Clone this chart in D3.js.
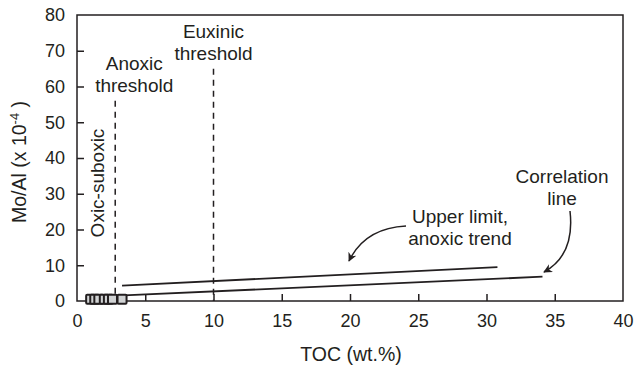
<!DOCTYPE html>
<html><head><meta charset="utf-8">
<script src="https://cdn.jsdelivr.net/npm/d3@7"></script>
<style>body{margin:0;background:#fff}text{font-family:"Liberation Sans",Arial,sans-serif;fill:#231f20}</style>
</head><body><svg id="c" width="635" height="373"></svg>
<script>
const xTicks = [0,5,10,15,20,25,30,35,40];
const yTicks = [0,10,20,30,40,50,60,70,80];
const sampleTOC = [1.0,1.3,1.6,2.0,2.3,2.6,3.3];
const sampleMoAl = [0.5,0.5,0.5,0.5,0.5,0.5,0.5];
const upperLimit = [[3.3,4.3],[30.8,9.5]];
const correlation = [[3.0,1.5],[34.1,6.8]];
const thresholds = [{toc:2.8,top:56,label:["Anoxic","threshold"],dx:19},{toc:10,top:65,label:["Euxinic","threshold"],dx:0}];

const svg = d3.select("#c");
const m = {l:77,r:623,t:15,b:301};
const x = d3.scaleLinear().domain([0,40]).range([m.l,m.r]);
const y = d3.scaleLinear().domain([0,80]).range([m.b,m.t]);
const ink = "#231f20";

svg.append("rect").attr("x",m.l).attr("y",m.t).attr("width",m.r-m.l).attr("height",m.b-m.t)
  .attr("fill","none").attr("stroke",ink).attr("stroke-width",1.5);

const gx = svg.append("g").attr("transform",`translate(0,${m.b})`)
  .call(d3.axisBottom(x).tickValues(xTicks).tickSize(-7).tickPadding(13));
const gy = svg.append("g").attr("transform",`translate(${m.l},0)`)
  .call(d3.axisLeft(y).tickValues(yTicks).tickSize(-7).tickPadding(12));
[gx,gy].forEach(g=>{
  g.attr("font-size",null).attr("font-family",null);
  g.select(".domain").remove();
  g.selectAll("line").attr("stroke",ink).attr("stroke-width",1.5);
  g.selectAll("text").style("font-size","18px").style("font-family","Liberation Sans, Arial, sans-serif").attr("fill",ink);
});
gx.selectAll(".tick").filter(d=>d===0||d===40).select("line").remove();
gy.selectAll(".tick").filter(d=>d===0||d===80).select("line").remove();

svg.append("text").attr("x",351).attr("y",361).attr("text-anchor","middle").style("font-size","19.5px").text("TOC (wt.%)");
const yl = svg.append("text").attr("transform",`translate(26,162) rotate(-90)`).attr("text-anchor","middle").style("font-size","19.5px");
yl.append("tspan").text("Mo/Al (x 10");
yl.append("tspan").attr("dy",-7).style("font-size","13px").text("-4");
yl.append("tspan").attr("dy",7).text(" )");

// threshold lines
thresholds.forEach(t=>{
  svg.append("line").attr("x1",x(t.toc)).attr("x2",x(t.toc)).attr("y1",y(t.top)).attr("y2",y(0))
    .attr("stroke",ink).attr("stroke-width",1.5).attr("stroke-dasharray","6,5");
  const tx = svg.append("text").attr("text-anchor","middle").style("font-size","19px");
  t.label.forEach((s,i)=>tx.append("tspan").attr("x",x(t.toc)+t.dx).attr("y",y(t.top)-31+i*22).text(s));
});
svg.append("text").attr("transform",`translate(104,183) rotate(-90)`).attr("text-anchor","middle").style("font-size","19px").text("Oxic-suboxic");

// trend lines
const line = d3.line().x(d=>x(d[0])).y(d=>y(d[1]));
[upperLimit,correlation].forEach(d=>svg.append("path").attr("d",line(d)).attr("fill","none").attr("stroke",ink).attr("stroke-width",1.8));

// samples
svg.selectAll("rect.s").data(sampleTOC).join("rect").attr("class","s")
  .attr("x",(d)=>x(d)-4.5).attr("y",(d,i)=>y(sampleMoAl[i])-4.5).attr("width",9).attr("height",9)
  .attr("rx",1).attr("fill","#d1d3d4").attr("stroke",ink).attr("stroke-width",2);

// annotations
const a1 = svg.append("text").attr("text-anchor","middle").style("font-size","19px");
a1.append("tspan").attr("x",460).attr("y",223).text("Upper limit,");
a1.append("tspan").attr("x",460).attr("y",245).text("anoxic trend");
const a2 = svg.append("text").attr("text-anchor","middle").style("font-size","19px");
a2.append("tspan").attr("x",562).attr("y",183).text("Correlation");
a2.append("tspan").attr("x",562).attr("y",205).text("line");

const defs = svg.append("defs");
defs.append("marker").attr("id","ah").attr("viewBox","0 0 10 10").attr("refX",9).attr("refY",5)
  .attr("markerWidth",9).attr("markerHeight",9).attr("markerUnits","userSpaceOnUse").attr("orient","auto")
  .append("path").attr("d","M0,0 L10,5 L0,10 L3,5 Z").attr("fill",ink);
svg.append("path").attr("d","M406,226 Q365,228 349,261").attr("fill","none").attr("stroke",ink).attr("stroke-width",1.5).attr("marker-end","url(#ah)");
svg.append("path").attr("d","M570,211 Q575,255 544,272").attr("fill","none").attr("stroke",ink).attr("stroke-width",1.5).attr("marker-end","url(#ah)");
</script></body></html>
